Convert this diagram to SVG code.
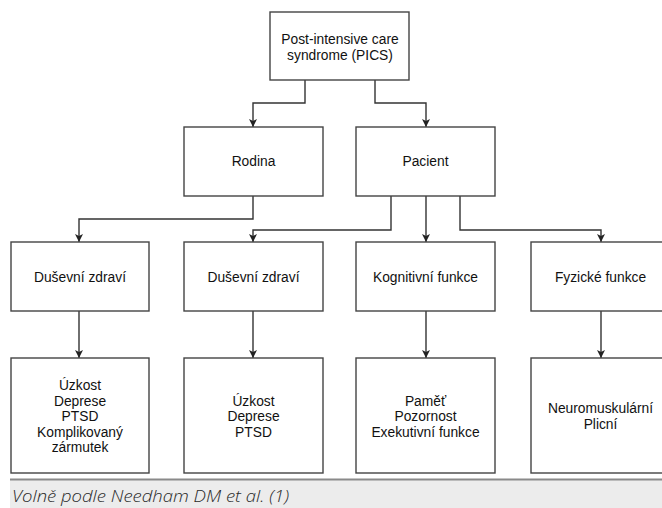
<svg xmlns="http://www.w3.org/2000/svg" width="662" height="508" viewBox="0 0 662 508">
<defs>
<marker id="arr" markerWidth="10" markerHeight="10" refX="8" refY="5" orient="auto" markerUnits="userSpaceOnUse">
<path d="M0,1 L8,5 L0,9 L2,5 Z" fill="#222"/>
</marker>
<style>
.box{fill:#fff;stroke:#444;stroke-width:1.4}
.t{font-family:"Liberation Sans",Arial,sans-serif;font-size:13.8px;fill:#111;text-anchor:middle}
.c{fill:none;stroke:#333;stroke-width:1.4;marker-end:url(#arr)}
.cap{font-family:"Open Sans",sans-serif;font-style:italic;font-weight:300;font-size:17px;fill:#2a2a2a}
</style>
</defs>
<rect width="662" height="508" fill="#fff"/>
<g id="connectors">
<path class="c" d="M305,80 V103 H253 V127"/>
<path class="c" d="M375,80 V103 H426 V127"/>
<path class="c" d="M253,196 V219 H79 V242"/>
<path class="c" d="M391,196 V230 H253 V242"/>
<path class="c" d="M426,196 V242"/>
<path class="c" d="M460,196 V230 H601 V242"/>
<path class="c" d="M79,311 V358"/>
<path class="c" d="M253,311 V358"/>
<path class="c" d="M426,311 V358"/>
<path class="c" d="M601,311 V358"/>
</g>
<g id="pics">
<rect class="box" x="270" y="12" width="139" height="68"/>
<text class="t" x="340" y="44">Post-intensive care</text>
<text class="t" x="340" y="60">syndrome (PICS)</text>
</g>
<g id="rodina">
<rect class="box" x="184" y="127" width="139" height="69"/>
<text class="t" x="253.5" y="166">Rodina</text>
</g>
<g id="pacient">
<rect class="box" x="356" y="127" width="139" height="69"/>
<text class="t" x="425.5" y="166">Pacient</text>
</g>
<g id="dz1">
<rect class="box" x="11" y="242" width="138" height="69"/>
<text class="t" x="80" y="282">Duševní zdraví</text>
</g>
<g id="dz2">
<rect class="box" x="184" y="242" width="139" height="69"/>
<text class="t" x="253.5" y="282">Duševní zdraví</text>
</g>
<g id="kog">
<rect class="box" x="356" y="242" width="139" height="69"/>
<text class="t" x="425.5" y="282">Kognitivní funkce</text>
</g>
<g id="fyz">
<rect class="box" x="531" y="242" width="139" height="69"/>
<text class="t" x="600.5" y="282">Fyzické funkce</text>
</g>
<g id="r1">
<rect class="box" x="11" y="358" width="138" height="115"/>
<text class="t" x="80" y="390">Úzkost</text>
<text class="t" x="80" y="405.5">Deprese</text>
<text class="t" x="80" y="421">PTSD</text>
<text class="t" x="80" y="436.5">Komplikovaný</text>
<text class="t" x="80" y="452">zármutek</text>
</g>
<g id="r2">
<rect class="box" x="184" y="358" width="139" height="115"/>
<text class="t" x="253.5" y="405.5">Úzkost</text>
<text class="t" x="253.5" y="421">Deprese</text>
<text class="t" x="253.5" y="436.5">PTSD</text>
</g>
<g id="r3">
<rect class="box" x="356" y="358" width="139" height="115"/>
<text class="t" x="425.5" y="405.5">Paměť</text>
<text class="t" x="425.5" y="421">Pozornost</text>
<text class="t" x="425.5" y="436.5">Exekutivní funkce</text>
</g>
<g id="r4">
<rect class="box" x="531" y="358" width="139" height="115"/>
<text class="t" x="600.5" y="413">Neuromuskulární</text>
<text class="t" x="600.5" y="428.5">Plicní</text>
</g>
<g id="caption">
<rect x="10" y="479" width="652" height="29" fill="#ececec"/>
<line x1="10" y1="479.5" x2="662" y2="479.5" stroke="#8a8a8a" stroke-width="2"/>
<text class="cap" x="12" y="502" textLength="277" lengthAdjust="spacingAndGlyphs">Volně podle Needham DM et al. (1)</text>
</g>
</svg>
